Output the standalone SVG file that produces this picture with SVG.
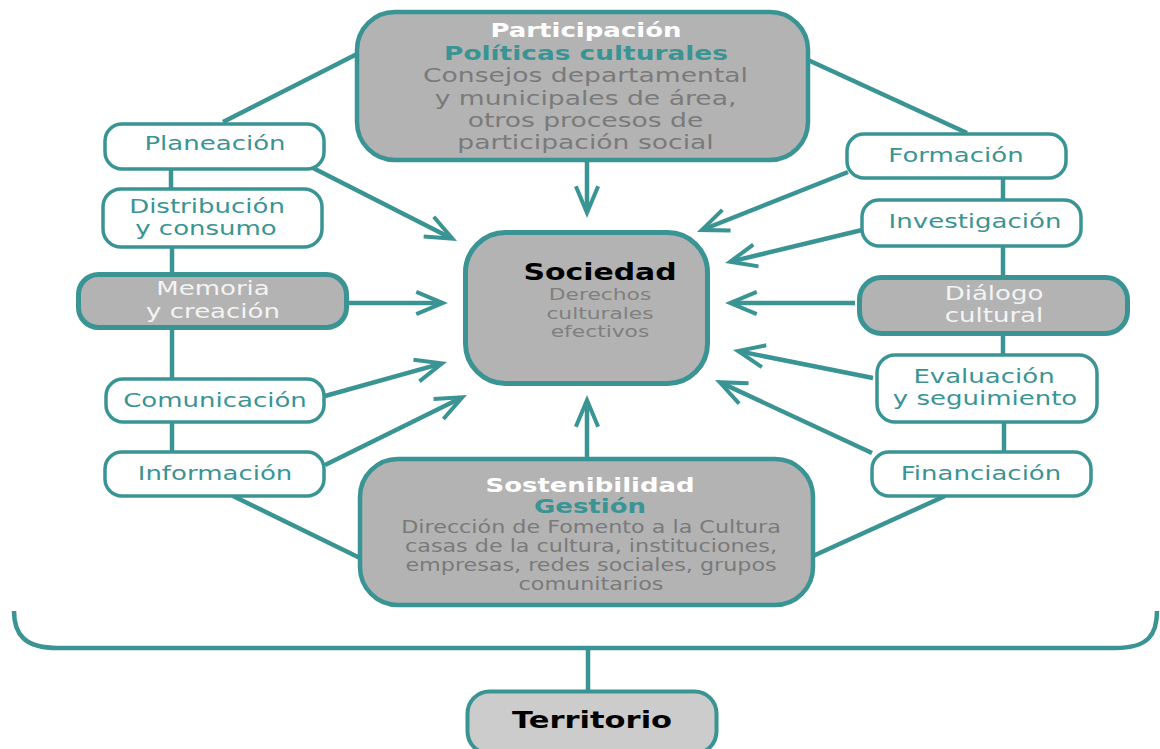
<svg xmlns="http://www.w3.org/2000/svg" width="1160" height="749" viewBox="0 0 1160 749">
<style>
text{font-family:"DejaVu Sans",Verdana,sans-serif;text-anchor:middle}
.box{fill:#b3b3b3;stroke:#3a9494}
.wn{fill:#ffffff;stroke:#3a9494;stroke-width:3.5}
.gn{fill:#b3b3b3;stroke:#3a9494;stroke-width:5}
.lt{font-size:20px;fill:#3a9494}
.wt{font-size:20px;fill:#f4f4f4}
.hw{font-weight:bold;fill:#ffffff}
.ht{font-weight:bold;fill:#3a9494}
.g20{font-size:20px;fill:#7a7a7a}
.g17{font-size:17px;fill:#7a7a7a}
.g16{font-size:16.5px;fill:#7f7f7f}
.ln{fill:none;stroke:#3a9494;stroke-width:4.5}
.ar{fill:none;stroke:#3a9494;stroke-width:4.5;marker-end:url(#ah)}
</style>
<defs>
<marker id="ah" markerUnits="userSpaceOnUse" orient="auto" refX="0" refY="0" markerWidth="60" markerHeight="60" viewBox="-40 -30 60 60" overflow="visible">
<polygon points="8,0 -23,-13 -24.5,-9.3 -2.4,0 -24.5,9.3 -23,13" fill="#3a9494"/>
</marker>
</defs>
<g id="connectors">
<line class="ln" x1="223" y1="122" x2="359" y2="53"/>
<line class="ln" x1="808" y1="60" x2="967" y2="133"/>
<line class="ln" x1="233" y1="496" x2="360" y2="558"/>
<line class="ln" x1="945" y1="496" x2="813" y2="556"/>
<line class="ln" x1="171" y1="168" x2="171" y2="190"/>
<line class="ln" x1="172" y1="246" x2="172" y2="276"/>
<line class="ln" x1="172" y1="327" x2="172" y2="380"/>
<line class="ln" x1="172" y1="421" x2="172" y2="453"/>
<line class="ln" x1="1003" y1="177" x2="1003" y2="201"/>
<line class="ln" x1="1003" y1="245" x2="1003" y2="278"/>
<line class="ln" x1="1003" y1="333" x2="1003" y2="356"/>
<line class="ln" x1="1004" y1="421" x2="1004" y2="453"/>
<path class="ar" d="M313,168 L449.9,237.4"/>
<path class="ar" d="M349,303 L440,303"/>
<path class="ar" d="M325,396 L439.3,364.2"/>
<path class="ar" d="M325,465 L459.8,398.5"/>
<path class="ar" d="M848,172 L704.4,229"/>
<path class="ar" d="M862,230 L732.8,261.1"/>
<path class="ar" d="M855,303 L733,303"/>
<path class="ar" d="M873,378 L740.8,351.6"/>
<path class="ar" d="M872,453 L722.3,383.4"/>
<path class="ar" d="M587,162 L587,210"/>
<path class="ar" d="M587,457 L587,403"/>
<path class="ln" d="M14,611 C14,635 25,648 58,648 L1115,648 C1148,648 1157,635 1157,611"/>
<line class="ln" x1="588" y1="648" x2="588" y2="691"/>
</g>
<g id="participacion">
<rect class="box" x="357" y="12" width="451" height="148" rx="38" stroke-width="4.5"/>
<text class="hw" font-size="20" transform="translate(586,37) scale(1.3,1)">Participación</text>
<text class="ht" font-size="20" transform="translate(586,60) scale(1.32,1)">Políticas culturales</text>
<text class="g20" transform="translate(585.5,82) scale(1.33,1)">Consejos departamental</text>
<text class="g20" transform="translate(585.5,105) scale(1.33,1)">y municipales de área,</text>
<text class="g20" transform="translate(585.5,127) scale(1.33,1)">otros procesos de</text>
<text class="g20" transform="translate(585.5,149) scale(1.33,1)">participación social</text>
</g>
<g id="sociedad">
<rect class="box" x="465.5" y="232.5" width="242" height="151" rx="40" stroke-width="5"/>
<text font-size="23" font-weight="bold" fill="#000000" transform="translate(600,280) scale(1.3,1)">Sociedad</text>
<text class="g16" transform="translate(600,300) scale(1.32,1)">Derechos</text>
<text class="g16" transform="translate(600,319) scale(1.32,1)">culturales</text>
<text class="g16" transform="translate(600,337) scale(1.32,1)">efectivos</text>
</g>
<g id="sostenibilidad">
<rect class="box" x="360" y="459" width="453" height="146" rx="38" stroke-width="4.5"/>
<text class="hw" font-size="19.5" transform="translate(590,492) scale(1.33,1)">Sostenibilidad</text>
<text class="ht" font-size="20" transform="translate(590,513) scale(1.3,1)">Gestión</text>
<text class="g17" transform="translate(591,533) scale(1.31,1)">Dirección de Fomento a la Cultura</text>
<text class="g17" transform="translate(591,552) scale(1.31,1)">casas de la cultura, instituciones,</text>
<text class="g17" transform="translate(591,571) scale(1.31,1)">empresas, redes sociales, grupos</text>
<text class="g17" transform="translate(591,590) scale(1.31,1)">comunitarios</text>
</g>
<g id="planeacion">
<rect class="wn" x="105" y="124" width="219" height="45" rx="17"/>
<text class="lt" transform="translate(215,150) scale(1.3,1)">Planeación</text>
</g>
<g id="distribucion">
<rect class="wn" x="103" y="189" width="219" height="58" rx="18"/>
<text class="lt" transform="translate(207,213) scale(1.3,1)">Distribución</text>
<text class="lt" transform="translate(206,235) scale(1.3,1)">y consumo</text>
</g>
<g id="memoria">
<rect class="gn" x="78.5" y="274.5" width="268" height="53" rx="20"/>
<text class="wt" transform="translate(213,295) scale(1.3,1)">Memoria</text>
<text class="wt" transform="translate(213,318) scale(1.3,1)">y creación</text>
</g>
<g id="comunicacion">
<rect class="wn" x="106" y="379" width="218" height="43" rx="17"/>
<text class="lt" transform="translate(215,407) scale(1.3,1)">Comunicación</text>
</g>
<g id="informacion">
<rect class="wn" x="105" y="452" width="219" height="44" rx="17"/>
<text class="lt" transform="translate(215,480) scale(1.3,1)">Información</text>
</g>
<g id="formacion">
<rect class="wn" x="847" y="134" width="219" height="44" rx="17"/>
<text class="lt" transform="translate(956,162) scale(1.3,1)">Formación</text>
</g>
<g id="investigacion">
<rect class="wn" x="862" y="200" width="219" height="46" rx="17"/>
<text class="lt" transform="translate(975,228) scale(1.3,1)">Investigación</text>
</g>
<g id="dialogo">
<rect class="gn" x="859.5" y="277.5" width="268" height="56" rx="22"/>
<text class="wt" transform="translate(994,300) scale(1.3,1)">Diálogo</text>
<text class="wt" transform="translate(994,322) scale(1.3,1)">cultural</text>
</g>
<g id="evaluacion">
<rect class="wn" x="877" y="355" width="220" height="67" rx="18"/>
<text class="lt" transform="translate(984,383) scale(1.3,1)">Evaluación</text>
<text class="lt" transform="translate(985,405) scale(1.3,1)">y seguimiento</text>
</g>
<g id="financiacion">
<rect class="wn" x="872" y="452" width="219" height="44" rx="17"/>
<text class="lt" transform="translate(981,480) scale(1.3,1)">Financiación</text>
</g>
<g id="territorio">
<rect x="467.5" y="691.5" width="249" height="62" rx="22" fill="#cccccc" stroke="#3a9494" stroke-width="4"/>
<text font-size="23.5" font-weight="bold" fill="#000000" transform="translate(592,728) scale(1.3,1)">Territorio</text>
</g>
</svg>
